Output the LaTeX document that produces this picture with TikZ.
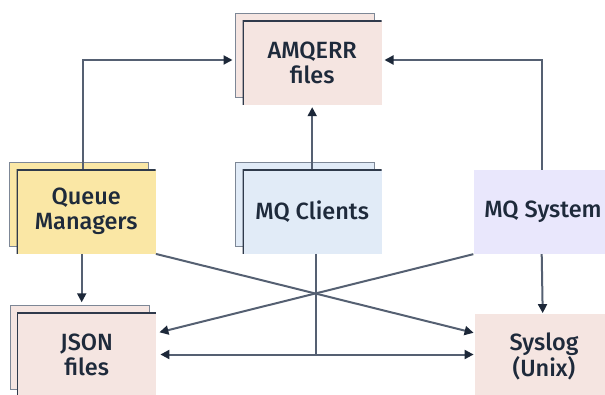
\documentclass[tikz,border=0pt]{standalone}
\usepackage{fontspec}
\setmainfont{Fira Sans Medium}
\usepackage{tikz}
\usetikzlibrary{arrows.meta,shadows}
\definecolor{mqpink}{HTML}{F5E5E1}
\definecolor{mqyellow}{HTML}{FAE7A5}
\definecolor{mqblue}{HTML}{E1EBF7}
\definecolor{mqlilac}{HTML}{E9E7FC}
\definecolor{mqline}{HTML}{556072}
\definecolor{mqtip}{HTML}{1D2839}
\definecolor{mqtext}{HTML}{1E2A3B}
\definecolor{mqedge}{HTML}{7D8796}
\definecolor{mqdark}{HTML}{2F3A4B}

\begin{document}
\begin{tikzpicture}[x=1pt,y=1pt,
  every node/.style={font=\fontsize{23.5}{25}\selectfont,text=mqtext,align=center},
  sheet/.style={minimum width=139pt,minimum height=84pt,inner sep=0pt},
  stack/.style={sheet,fill=#1,
    general shadow={fill=#1,draw=mqedge,line width=1pt,shadow xshift=-7pt,shadow yshift=7pt},
    path picture={\draw[mqdark,line width=2.4pt] (path picture bounding box.south west)
      -- (path picture bounding box.north west) -- (path picture bounding box.north east);}},
  arr/.style={-{Triangle[length=9pt,width=9pt,color=mqtip]},line width=2pt,draw=mqline},
  link/.style={line width=2pt,draw=mqline}
]
\useasboundingbox (0,0) rectangle (605,394);
\clip (0,0) rectangle (605,394);

\node[stack=mqpink] (amqerr) at (312.2,331) {AMQERR\\files};
\node[stack=mqyellow] (qmgr) at (86.2,182.3) {Queue\\Managers};
\node[stack=mqblue] (clients) at (312.2,182.3) {MQ Clients};
\node[sheet,fill=mqlilac] (system) at (543,182) {MQ System};
\node[stack=mqpink] (json) at (86.7,39.5) {JSON\\files};
\node[sheet,fill=mqpink] (syslog) at (544,38) {Syslog\\(Unix)};

\coordinate (hub) at ([xshift=4pt]clients.south |- json.east);

\draw[arr] ([xshift=-3.5pt]qmgr.north) |- ([xshift=-10pt,yshift=3pt]amqerr.west);
\draw[arr] ([xshift=-1pt]system.north) |- ([xshift=2.6pt,yshift=3pt]amqerr.east);
\draw[arr] (clients.north) -- ([yshift=-2pt]amqerr.south);
\draw[arr] ([xshift=-4.5pt]qmgr.south) -- ([xshift=-5pt,yshift=10pt]json.north);
\draw[arr] ([xshift=-1.3pt]system.south) -- ([xshift=-1.3pt,yshift=0.7pt]syslog.north);
\draw[arr] (qmgr.south east) -- ([xshift=-0.7pt,yshift=-19pt]syslog.north west);
\draw[arr] (system.south west) -- ([xshift=3pt,yshift=-20pt]json.north east);
\draw[link] ([xshift=4pt]clients.south) -- (hub);
\draw[arr] (hub) -- ([xshift=4pt]json.east);
\draw[arr] (hub) -- ([xshift=-0.7pt]syslog.west |- hub);
\end{tikzpicture}
\end{document}
